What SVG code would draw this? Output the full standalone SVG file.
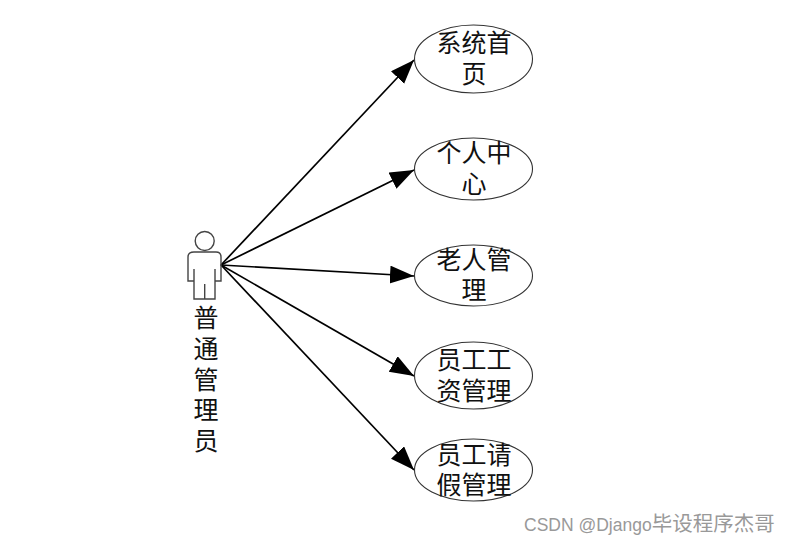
<svg xmlns="http://www.w3.org/2000/svg" width="790" height="544" viewBox="0 0 790 544">
<defs>
<style>
.uc{fill:#fff;stroke:#333;stroke-width:1.1}
.t{font-family:"Liberation Serif","Noto Sans CJK SC",serif;font-size:25px;fill:#111;text-anchor:middle}
.a{fill:none;stroke:#444;stroke-width:1.4}
.c{stroke:#000;stroke-width:1.7;fill:none;marker-end:url(#arr)}
</style>
<marker id="arr" markerUnits="userSpaceOnUse" markerWidth="26" markerHeight="20" refX="24" refY="9" orient="auto"><path d="M0 0L24 9L0 18Z" fill="#000"/></marker>
</defs>
<rect width="790" height="544" fill="#fff"/>
<g id="connectors">
<path class="c" d="M221 265L414 60"/>
<path class="c" d="M221 265L414 170"/>
<path class="c" d="M221 265L414 276"/>
<path class="c" d="M221 265L414 376"/>
<path class="c" d="M221 265L414 470"/>
</g>
<g id="actor">
<circle class="a" cx="204.700" cy="241" r="9.500"/>
<path class="a" d="M194 252H216Q221 252 221 257V281H215V299H194V281H188V257Q188 252 194 252ZM194 269V299M215 269V299M204.700 284V299"/>
<text class="t" x="206" y="327">普</text>
<text class="t" x="206" y="358">通</text>
<text class="t" x="206" y="389">管</text>
<text class="t" x="206" y="419">理</text>
<text class="t" x="206" y="450">员</text>
</g>
<g id="uc1"><ellipse class="uc" cx="473.500" cy="59" rx="59" ry="34"/><text class="t" x="474" y="52">系统首</text><text class="t" x="474" y="83">页</text></g>
<g id="uc2"><ellipse class="uc" cx="473.500" cy="169" rx="59" ry="31"/><text class="t" x="474" y="162">个人中</text><text class="t" x="474" y="193">心</text></g>
<g id="uc3"><ellipse class="uc" cx="473.500" cy="275.500" rx="59" ry="30.500"/><text class="t" x="474" y="269">老人管</text><text class="t" x="474" y="299">理</text></g>
<g id="uc4"><ellipse class="uc" cx="473.500" cy="375.500" rx="59" ry="33.500"/><text class="t" x="474" y="369">员工工</text><text class="t" x="474" y="400">资管理</text></g>
<g id="uc5"><ellipse class="uc" cx="473.500" cy="470" rx="59" ry="31"/><text class="t" x="474" y="464">员工请</text><text class="t" x="474" y="494">假管理</text></g>
<text x="524" y="531" font-family="'Liberation Sans','Noto Sans CJK SC',sans-serif" font-size="17.500" fill="#999">CSDN @Django<tspan font-size="20.500">毕设程序杰哥</tspan></text>
</svg>
